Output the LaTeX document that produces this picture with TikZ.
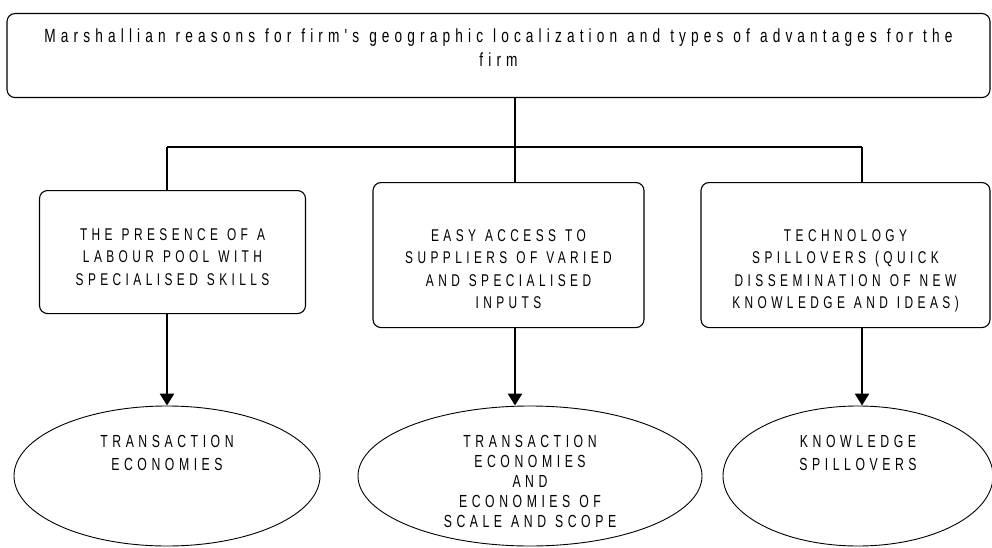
\documentclass[tikz,border=0pt]{standalone}
\usepackage{fontspec}
\setmainfont{Liberation Sans}
\newfontfamily\headfont[FakeStretch=0.72,LetterSpace=27]{Liberation Sans}
\newfontfamily\capsfont[FakeStretch=0.7,LetterSpace=26]{Liberation Sans}
% letter spacing leaves no word space, so set one by hand
\newcommand\headtext{\headfont\fontsize{19}{24}\selectfont\spaceskip=10pt\relax}
\newcommand\boxtext{\capsfont\fontsize{17}{22.3}\selectfont\spaceskip=9pt\relax}
\newcommand\ovaltext[1][23.5]{\capsfont\fontsize{17.5}{#1}\selectfont\spaceskip=9pt\relax}
\usetikzlibrary{shapes.geometric,arrows.meta}

\begin{document}
\begin{tikzpicture}[x=1pt,y=-1pt,
    box/.style={draw,rounded corners=8pt,line width=1.1pt,anchor=north,inner sep=0pt,
      align=flush center,font=\boxtext},
    oval/.style={draw,ellipse,line width=0.9pt,inner sep=0pt,align=flush center,text width=180pt,
      text height=0pt,text depth=58pt,minimum height=140pt,font=\ovaltext},
    arr/.style={line width=2.6pt,-{Triangle[width=14pt,length=12pt]}}]
  \useasboundingbox (0,0) rectangle (992,548);

  % heading
  \node[box,text width=983pt,text height=29pt,text depth=55pt,font=\headtext] (head) at (498.5,13)
    {Marshallian reasons for firm's geographic localization and types of advantages for the\\ firm};

  % the three reasons
  \node[box,text width=266pt,text height=50pt,text depth=73pt] (pool) at (172.5,190)
    {THE PRESENCE OF A\\ LABOUR POOL WITH\\ SPECIALISED SKILLS};
  \node[box,text width=271pt,text height=59pt,text depth=86pt] (inputs) at (508.5,182)
    {EASY ACCESS TO\\ SUPPLIERS OF VARIED\\ AND SPECIALISED\\ INPUTS};
  \node[box,text width=289pt,text height=59pt,text depth=86pt] (spill) at (845.5,182)
    {TECHNOLOGY\\ SPILLOVERS (QUICK\\ DISSEMINATION OF NEW\\ KNOWLEDGE AND IDEAS)};

  % the advantages
  \node[oval,minimum width=306pt] (trans) at (167,476) {TRANSACTION\\ ECONOMIES};
  \node[oval,minimum width=344pt,text width=230pt,font={\ovaltext[20]}] (scale) at (530,476)
    {TRANSACTION\\ ECONOMIES\\ AND\\ ECONOMIES OF\\ SCALE AND SCOPE};
  \node[oval,minimum width=270pt] (know) at (858,476) {KNOWLEDGE\\ SPILLOVERS};

  % tree under the heading
  \coordinate (split) at (515,147);
  \coordinate (joinL) at (167,147);
  \coordinate (joinR) at (862,147);
  \begin{scope}[line width=1.1pt]
    \draw (head.south -| split) -- (inputs.north -| split);
    \draw (joinL) -- (joinR);
    \draw (joinL) -- (joinL |- pool.north);
    \draw (joinR) -- (joinR |- spill.north);
  \end{scope}

  \draw[arr] (pool.south -| joinL) -- (joinL |- trans.north);
  \draw[arr] (inputs.south -| split) -- (split |- scale.north);
  \draw[arr] (spill.south -| joinR) -- (joinR |- know.north);
\end{tikzpicture}
\end{document}
